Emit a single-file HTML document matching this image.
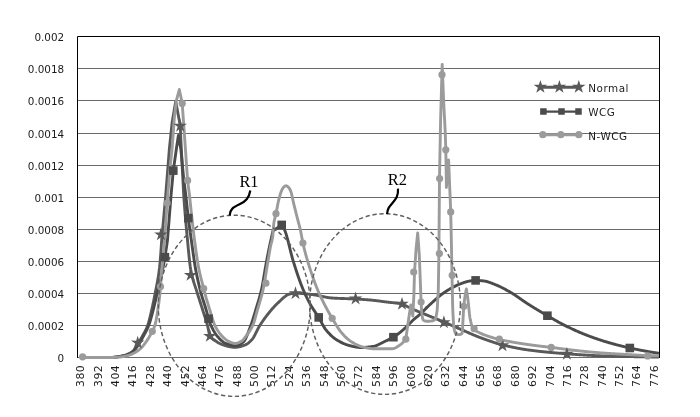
<!DOCTYPE html><html><head><meta charset="utf-8"><title>Spectrum</title>
<style>html,body{margin:0;padding:0;background:#fff}svg{display:block}text{font-family:"DejaVu Sans","Liberation Sans",sans-serif;fill:#1c1c1c}.s{font-family:"Liberation Serif",serif;fill:#000}</style></head><body>
<svg width="700" height="417" viewBox="0 0 700 417">
<rect width="700" height="417" fill="#fff"/>
<line x1="78" y1="68.5" x2="659" y2="68.5" stroke="#6a6a6a" stroke-width="1.2"/>
<line x1="78" y1="100.5" x2="659" y2="100.5" stroke="#6a6a6a" stroke-width="1.2"/>
<line x1="78" y1="133.5" x2="659" y2="133.5" stroke="#6a6a6a" stroke-width="1.2"/>
<line x1="78" y1="165.5" x2="659" y2="165.5" stroke="#6a6a6a" stroke-width="1.2"/>
<line x1="78" y1="197.5" x2="659" y2="197.5" stroke="#6a6a6a" stroke-width="1.2"/>
<line x1="78" y1="229.5" x2="659" y2="229.5" stroke="#6a6a6a" stroke-width="1.2"/>
<line x1="78" y1="261.5" x2="659" y2="261.5" stroke="#6a6a6a" stroke-width="1.2"/>
<line x1="78" y1="293.5" x2="659" y2="293.5" stroke="#6a6a6a" stroke-width="1.2"/>
<line x1="78" y1="325.5" x2="659" y2="325.5" stroke="#6a6a6a" stroke-width="1.2"/>
<line x1="78" y1="357.5" x2="659" y2="357.5" stroke="#6a6a6a" stroke-width="1.2"/>
<text x="64.2" y="40.8" font-size="10.4" text-anchor="end">0.002</text>
<text x="64.2" y="72.8" font-size="10.4" text-anchor="end">0.0018</text>
<text x="64.2" y="104.8" font-size="10.4" text-anchor="end">0.0016</text>
<text x="64.2" y="137.8" font-size="10.4" text-anchor="end">0.0014</text>
<text x="64.2" y="169.8" font-size="10.4" text-anchor="end">0.0012</text>
<text x="64.2" y="201.8" font-size="10.4" text-anchor="end">0.001</text>
<text x="64.2" y="233.8" font-size="10.4" text-anchor="end">0.0008</text>
<text x="64.2" y="265.8" font-size="10.4" text-anchor="end">0.0006</text>
<text x="64.2" y="297.8" font-size="10.4" text-anchor="end">0.0004</text>
<text x="64.2" y="329.8" font-size="10.4" text-anchor="end">0.0002</text>
<text x="64.2" y="361.8" font-size="10.4" text-anchor="end">0</text>
<text transform="translate(84.30,386.9) rotate(-90)" font-size="10.9" letter-spacing="0.4">380</text>
<text transform="translate(101.68,386.9) rotate(-90)" font-size="10.9" letter-spacing="0.4">392</text>
<text transform="translate(119.06,386.9) rotate(-90)" font-size="10.9" letter-spacing="0.4">404</text>
<text transform="translate(136.44,386.9) rotate(-90)" font-size="10.9" letter-spacing="0.4">416</text>
<text transform="translate(153.82,386.9) rotate(-90)" font-size="10.9" letter-spacing="0.4">428</text>
<text transform="translate(171.20,386.9) rotate(-90)" font-size="10.9" letter-spacing="0.4">440</text>
<text transform="translate(188.58,386.9) rotate(-90)" font-size="10.9" letter-spacing="0.4">452</text>
<text transform="translate(205.96,386.9) rotate(-90)" font-size="10.9" letter-spacing="0.4">464</text>
<text transform="translate(223.34,386.9) rotate(-90)" font-size="10.9" letter-spacing="0.4">476</text>
<text transform="translate(240.72,386.9) rotate(-90)" font-size="10.9" letter-spacing="0.4">488</text>
<text transform="translate(258.10,386.9) rotate(-90)" font-size="10.9" letter-spacing="0.4">500</text>
<text transform="translate(275.48,386.9) rotate(-90)" font-size="10.9" letter-spacing="0.4">512</text>
<text transform="translate(292.86,386.9) rotate(-90)" font-size="10.9" letter-spacing="0.4">524</text>
<text transform="translate(310.24,386.9) rotate(-90)" font-size="10.9" letter-spacing="0.4">536</text>
<text transform="translate(327.62,386.9) rotate(-90)" font-size="10.9" letter-spacing="0.4">548</text>
<text transform="translate(345.00,386.9) rotate(-90)" font-size="10.9" letter-spacing="0.4">560</text>
<text transform="translate(362.38,386.9) rotate(-90)" font-size="10.9" letter-spacing="0.4">572</text>
<text transform="translate(379.76,386.9) rotate(-90)" font-size="10.9" letter-spacing="0.4">584</text>
<text transform="translate(397.14,386.9) rotate(-90)" font-size="10.9" letter-spacing="0.4">596</text>
<text transform="translate(414.52,386.9) rotate(-90)" font-size="10.9" letter-spacing="0.4">608</text>
<text transform="translate(431.90,386.9) rotate(-90)" font-size="10.9" letter-spacing="0.4">620</text>
<text transform="translate(449.28,386.9) rotate(-90)" font-size="10.9" letter-spacing="0.4">632</text>
<text transform="translate(466.66,386.9) rotate(-90)" font-size="10.9" letter-spacing="0.4">644</text>
<text transform="translate(484.04,386.9) rotate(-90)" font-size="10.9" letter-spacing="0.4">656</text>
<text transform="translate(501.42,386.9) rotate(-90)" font-size="10.9" letter-spacing="0.4">668</text>
<text transform="translate(518.80,386.9) rotate(-90)" font-size="10.9" letter-spacing="0.4">680</text>
<text transform="translate(536.18,386.9) rotate(-90)" font-size="10.9" letter-spacing="0.4">692</text>
<text transform="translate(553.56,386.9) rotate(-90)" font-size="10.9" letter-spacing="0.4">704</text>
<text transform="translate(570.94,386.9) rotate(-90)" font-size="10.9" letter-spacing="0.4">716</text>
<text transform="translate(588.32,386.9) rotate(-90)" font-size="10.9" letter-spacing="0.4">728</text>
<text transform="translate(605.70,386.9) rotate(-90)" font-size="10.9" letter-spacing="0.4">740</text>
<text transform="translate(623.08,386.9) rotate(-90)" font-size="10.9" letter-spacing="0.4">752</text>
<text transform="translate(640.46,386.9) rotate(-90)" font-size="10.9" letter-spacing="0.4">764</text>
<text transform="translate(657.84,386.9) rotate(-90)" font-size="10.9" letter-spacing="0.4">776</text>
<path d="M113.00,357.30 L113.50,357.25 L114.00,357.20 L114.50,357.15 L115.00,357.09 L115.50,357.03 L116.00,356.97 L116.50,356.90 L117.00,356.83 L117.50,356.76 L118.00,356.68 L118.50,356.61 L119.00,356.53 L119.50,356.44 L120.00,356.36 L120.50,356.27 L121.00,356.17 L121.50,356.07 L122.00,355.97 L122.50,355.86 L123.00,355.75 L123.50,355.63 L124.00,355.50 L124.40,355.40 L124.50,355.37 L125.00,355.23 L125.50,355.07 L126.00,354.90 L126.50,354.72 L127.00,354.52 L127.50,354.31 L128.00,354.09 L128.50,353.86 L129.00,353.62 L129.50,353.36 L130.00,353.10 L130.50,352.83 L130.90,352.60 L131.00,352.54 L131.50,352.23 L132.00,351.87 L132.50,351.47 L132.80,351.20 L133.00,351.01 L133.50,350.47 L134.00,349.85 L134.50,349.18 L135.00,348.45 L135.50,347.69 L136.00,346.91 L136.50,346.12 L137.00,345.32 L137.40,344.70 L137.50,344.55 L138.00,343.76 L138.50,342.96 L139.00,342.14 L139.50,341.31 L140.00,340.46 L140.50,339.59 L141.00,338.71 L141.50,337.82 L142.00,336.91 L142.50,335.99 L142.60,335.80 L143.00,335.06 L143.50,334.16 L144.00,333.26 L144.50,332.35 L145.00,331.42 L145.50,330.45 L146.00,329.43 L146.50,328.35 L147.00,327.19 L147.50,325.93 L147.70,325.40 L148.00,324.55 L148.50,322.97 L149.00,321.21 L149.50,319.30 L150.00,317.28 L150.50,315.18 L151.00,313.03 L151.50,310.86 L151.70,310.00 L152.00,308.69 L152.50,306.44 L153.00,304.10 L153.50,301.68 L154.00,299.19 L154.50,296.65 L155.00,294.05 L155.20,293.00 L155.50,291.44 L156.00,288.94 L156.50,286.47 L157.00,283.96 L157.50,281.33 L158.00,278.50 L158.50,275.38 L159.00,271.91 L159.50,268.00 L160.00,263.16 L160.50,257.17 L161.00,250.34 L161.50,243.01 L161.70,240.00 L165.60,197.00 L169.40,148.70 L172.20,122.00 L175.70,101.50 L180.20,125.30 L181.30,148.70 L183.80,197.00 L184.30,203.47 L184.80,209.77 L185.30,215.87 L185.80,221.78 L186.30,227.46 L186.80,232.90 L187.00,235.00 L187.30,238.15 L187.80,243.48 L188.30,248.79 L188.80,253.92 L189.30,258.75 L189.80,263.14 L190.30,266.93 L190.80,270.00 L191.30,272.54 L191.80,274.84 L192.30,276.95 L192.80,278.87 L193.30,280.66 L193.80,282.32 L194.30,283.90 L194.80,285.41 L195.30,286.89 L195.80,288.36 L196.30,289.85 L196.80,291.38 L197.30,293.00 L197.80,294.65 L198.30,296.26 L198.80,297.85 L199.30,299.42 L199.80,300.97 L200.30,302.52 L200.80,304.06 L201.30,305.61 L201.80,307.16 L202.30,308.73 L202.70,310.00 L202.80,310.32 L203.30,311.89 L203.80,313.44 L204.30,314.97 L204.80,316.52 L205.30,318.08 L205.80,319.67 L206.30,321.30 L206.80,323.00 L207.30,324.77 L207.50,325.50 L207.80,326.72 L208.30,329.10 L208.80,331.58 L209.30,333.77 L209.80,335.31 L209.90,335.50 L210.30,336.15 L210.80,336.86 L211.30,337.48 L211.80,338.02 L212.30,338.50 L212.80,338.92 L213.30,339.30 L213.80,339.66 L214.30,340.00 L214.80,340.36 L215.00,340.50 L215.30,340.72 L215.80,341.08 L216.30,341.43 L216.80,341.77 L217.30,342.10 L217.80,342.43 L218.30,342.73 L218.80,343.03 L219.30,343.31 L219.80,343.57 L220.30,343.82 L220.80,344.04 L221.30,344.25 L221.80,344.43 L222.00,344.50 L222.30,344.60 L222.80,344.76 L223.30,344.92 L223.80,345.08 L224.30,345.24 L224.80,345.40 L225.30,345.55 L225.80,345.70 L226.30,345.85 L226.80,345.99 L227.30,346.13 L227.80,346.26 L228.30,346.38 L228.80,346.50 L229.30,346.62 L229.80,346.72 L230.30,346.82 L230.80,346.91 L231.30,347.00 L231.80,347.07 L232.30,347.13 L232.80,347.19 L233.30,347.23 L233.80,347.27 L234.30,347.29 L234.80,347.30 L235.00,347.30 L235.30,347.30 L235.80,347.28 L236.30,347.25 L236.80,347.20 L237.30,347.14 L237.80,347.07 L238.30,346.98 L238.80,346.89 L239.30,346.78 L239.80,346.66 L240.30,346.53 L240.80,346.40 L241.30,346.25 L241.80,346.10 L242.30,345.94 L242.80,345.78 L243.30,345.61 L243.80,345.43 L244.30,345.25 L244.80,345.07 L245.00,345.00 L245.30,344.88 L245.80,344.66 L246.30,344.40 L246.80,344.10 L247.30,343.78 L247.80,343.42 L248.30,343.04 L248.80,342.63 L249.30,342.19 L249.80,341.74 L250.30,341.26 L250.80,340.76 L251.30,340.25 L251.80,339.72 L252.00,339.50 L252.30,339.16 L252.80,338.51 L253.30,337.77 L253.80,336.96 L254.30,336.08 L254.80,335.15 L255.30,334.18 L255.80,333.18 L256.30,332.16 L256.80,331.14 L257.30,330.12 L257.80,329.12 L258.30,328.14 L258.80,327.21 L259.30,326.32 L259.80,325.50 L260.30,324.72 L260.80,323.95 L261.30,323.19 L261.80,322.45 L262.30,321.71 L262.80,320.99 L263.30,320.27 L263.80,319.57 L264.30,318.87 L264.80,318.19 L265.30,317.51 L265.80,316.85 L266.30,316.19 L266.80,315.54 L267.30,314.89 L267.80,314.25 L268.00,314.00 L268.30,313.62 L268.80,313.00 L269.30,312.38 L269.80,311.77 L270.30,311.17 L270.80,310.57 L271.30,309.98 L271.80,309.40 L272.30,308.82 L272.80,308.25 L273.30,307.69 L273.80,307.14 L274.30,306.60 L274.80,306.06 L275.30,305.53 L275.80,305.01 L276.00,304.80 L276.30,304.49 L276.80,304.00 L277.30,303.51 L277.80,303.04 L278.30,302.57 L278.80,302.11 L279.30,301.65 L279.80,301.19 L280.00,301.00 L280.30,300.72 L280.80,300.23 L281.30,299.75 L281.80,299.26 L282.30,298.78 L282.80,298.31 L283.30,297.87 L283.80,297.46 L284.00,297.30 L284.30,297.07 L284.80,296.67 L285.30,296.27 L285.80,295.88 L286.30,295.51 L286.80,295.17 L287.30,294.86 L287.80,294.60 L288.30,294.39 L288.60,294.30 L288.80,294.25 L289.30,294.12 L289.80,293.99 L290.30,293.87 L290.80,293.76 L291.30,293.66 L291.80,293.56 L292.30,293.48 L292.80,293.40 L293.30,293.34 L293.80,293.28 L294.30,293.24 L294.80,293.21 L295.30,293.20 L295.50,293.20 L295.80,293.20 L296.30,293.21 L296.80,293.22 L297.30,293.23 L297.80,293.25 L298.30,293.28 L298.80,293.31 L299.30,293.34 L299.80,293.37 L300.30,293.41 L300.80,293.45 L301.30,293.49 L301.80,293.53 L302.30,293.57 L302.80,293.61 L303.30,293.66 L303.80,293.70 L304.30,293.74 L304.80,293.78 L305.00,293.80 L305.30,293.82 L305.80,293.87 L306.30,293.91 L306.80,293.96 L307.30,294.01 L307.80,294.06 L308.30,294.12 L308.80,294.17 L309.30,294.23 L309.80,294.29 L310.30,294.35 L310.80,294.41 L311.30,294.47 L311.80,294.54 L312.30,294.60 L312.80,294.67 L313.30,294.74 L313.80,294.80 L314.30,294.87 L314.50,294.90 L314.80,294.94 L315.30,295.02 L315.80,295.10 L316.30,295.18 L316.80,295.27 L317.30,295.36 L317.80,295.46 L318.30,295.56 L318.80,295.66 L319.30,295.76 L319.80,295.87 L320.30,295.97 L320.80,296.08 L321.30,296.19 L321.80,296.30 L322.30,296.41 L322.80,296.52 L323.30,296.63 L323.80,296.74 L324.30,296.84 L324.80,296.95 L325.30,297.05 L325.80,297.15 L326.30,297.24 L326.80,297.34 L327.30,297.43 L327.80,297.51 L328.30,297.59 L328.80,297.67 L329.30,297.74 L329.80,297.80 L330.30,297.86 L330.80,297.92 L331.30,297.96 L331.80,298.00 L332.30,298.03 L332.80,298.07 L333.30,298.10 L333.80,298.13 L334.30,298.16 L334.80,298.19 L335.30,298.21 L335.80,298.24 L336.30,298.27 L336.80,298.29 L337.30,298.31 L337.80,298.33 L338.30,298.36 L338.80,298.38 L339.30,298.40 L339.80,298.42 L340.30,298.43 L340.80,298.45 L341.30,298.47 L341.80,298.49 L342.30,298.50 L342.80,298.52 L343.30,298.54 L343.80,298.55 L344.30,298.57 L344.80,298.59 L345.30,298.60 L345.80,298.62 L346.30,298.63 L346.80,298.65 L347.30,298.66 L347.80,298.68 L348.30,298.70 L348.80,298.71 L349.30,298.73 L349.80,298.75 L350.30,298.77 L350.80,298.79 L351.30,298.80 L351.80,298.82 L352.30,298.84 L352.80,298.87 L353.30,298.89 L353.80,298.91 L354.30,298.93 L354.80,298.96 L355.30,298.98 L355.60,299.00 L355.80,299.01 L356.30,299.04 L356.80,299.07 L357.30,299.09 L357.80,299.12 L358.30,299.15 L358.80,299.18 L359.30,299.21 L359.80,299.24 L360.30,299.27 L360.80,299.31 L361.30,299.34 L361.80,299.37 L362.30,299.40 L362.80,299.44 L363.30,299.47 L363.80,299.51 L364.30,299.54 L364.80,299.58 L365.30,299.62 L365.80,299.66 L366.30,299.69 L366.80,299.73 L367.30,299.77 L367.80,299.81 L368.30,299.86 L368.80,299.90 L369.30,299.94 L369.80,299.98 L370.00,300.00 L370.30,300.03 L370.80,300.07 L371.30,300.12 L371.80,300.17 L372.30,300.22 L372.80,300.27 L373.30,300.33 L373.80,300.38 L374.30,300.44 L374.80,300.49 L375.30,300.55 L375.80,300.61 L376.30,300.67 L376.80,300.73 L377.30,300.80 L377.80,300.86 L378.30,300.92 L378.80,300.99 L379.30,301.05 L379.80,301.12 L380.30,301.18 L380.80,301.25 L381.30,301.32 L381.80,301.38 L382.30,301.45 L382.80,301.51 L383.30,301.58 L383.80,301.65 L384.30,301.71 L384.80,301.78 L385.30,301.84 L385.80,301.91 L386.30,301.97 L386.80,302.04 L387.30,302.10 L387.80,302.16 L388.30,302.22 L388.80,302.28 L389.30,302.33 L389.80,302.38 L390.30,302.44 L390.80,302.49 L391.30,302.54 L391.80,302.58 L392.30,302.63 L392.80,302.68 L393.30,302.73 L393.80,302.78 L394.30,302.84 L394.80,302.89 L395.30,302.94 L395.80,303.00 L396.30,303.06 L396.80,303.12 L397.30,303.19 L397.80,303.26 L398.30,303.33 L398.80,303.40 L399.30,303.48 L399.80,303.57 L400.30,303.66 L400.80,303.75 L401.30,303.85 L401.80,303.96 L402.00,304.00 L402.30,304.07 L402.80,304.23 L403.30,304.42 L403.80,304.64 L404.30,304.89 L404.80,305.16 L405.30,305.43 L405.80,305.72 L406.30,306.00 L406.80,306.28 L407.30,306.55 L407.80,306.80 L408.00,306.90 L408.30,307.04 L408.80,307.27 L409.30,307.51 L409.80,307.74 L410.30,307.97 L410.80,308.20 L411.30,308.43 L411.80,308.66 L412.30,308.89 L412.80,309.12 L413.30,309.34 L413.80,309.57 L414.30,309.79 L414.80,310.01 L415.30,310.23 L415.80,310.45 L416.30,310.67 L416.60,310.80 L416.80,310.89 L417.30,311.10 L417.80,311.31 L418.30,311.53 L418.80,311.74 L419.30,311.95 L419.80,312.15 L420.30,312.36 L420.80,312.57 L421.30,312.77 L421.80,312.98 L422.30,313.18 L422.80,313.38 L423.30,313.59 L423.80,313.79 L424.30,313.99 L424.80,314.19 L425.30,314.39 L425.80,314.60 L426.30,314.80 L426.80,315.00 L427.30,315.20 L427.80,315.40 L428.30,315.61 L428.80,315.81 L429.30,316.01 L429.80,316.22 L430.00,316.30 L430.30,316.42 L430.80,316.63 L431.30,316.83 L431.80,317.04 L432.30,317.24 L432.80,317.44 L433.30,317.65 L433.80,317.85 L434.30,318.05 L434.80,318.26 L435.30,318.46 L435.80,318.66 L436.30,318.87 L436.80,319.07 L437.30,319.27 L437.80,319.48 L438.30,319.68 L438.80,319.88 L439.30,320.09 L439.80,320.30 L440.30,320.50 L440.80,320.71 L441.30,320.91 L441.80,321.12 L442.30,321.33 L442.80,321.54 L443.30,321.75 L443.80,321.96 L443.90,322.00 L444.30,322.17 L444.80,322.38 L445.30,322.59 L445.80,322.81 L446.30,323.02 L446.80,323.24 L447.30,323.45 L447.80,323.67 L448.30,323.89 L448.80,324.10 L449.30,324.32 L449.80,324.54 L450.30,324.76 L450.80,324.98 L451.30,325.20 L451.80,325.42 L452.30,325.64 L452.80,325.86 L453.30,326.08 L453.80,326.30 L454.30,326.52 L454.80,326.74 L455.30,326.96 L455.80,327.17 L456.30,327.39 L456.80,327.61 L457.30,327.83 L457.80,328.05 L458.30,328.27 L458.80,328.48 L459.30,328.70 L459.80,328.91 L460.00,329.00 L460.30,329.13 L460.80,329.35 L461.30,329.56 L461.80,329.78 L462.30,330.00 L462.80,330.22 L463.30,330.44 L463.80,330.66 L464.30,330.88 L464.80,331.10 L465.30,331.32 L465.80,331.54 L466.30,331.76 L466.80,331.99 L467.30,332.21 L467.80,332.43 L468.30,332.65 L468.80,332.87 L469.30,333.09 L469.80,333.31 L470.30,333.53 L470.80,333.74 L471.30,333.96 L471.80,334.18 L472.30,334.39 L472.80,334.61 L473.30,334.82 L473.80,335.03 L474.30,335.24 L474.80,335.45 L475.30,335.65 L475.80,335.86 L476.30,336.06 L476.80,336.26 L477.30,336.46 L477.80,336.66 L478.30,336.85 L478.80,337.05 L479.30,337.24 L479.80,337.43 L480.00,337.50 L480.30,337.61 L480.80,337.80 L481.30,337.98 L481.80,338.17 L482.30,338.35 L482.80,338.54 L483.30,338.72 L483.80,338.91 L484.30,339.09 L484.80,339.27 L485.30,339.46 L485.80,339.64 L486.30,339.82 L486.80,340.00 L487.30,340.18 L487.80,340.36 L488.30,340.53 L488.80,340.71 L489.30,340.88 L489.80,341.06 L490.30,341.23 L490.80,341.40 L491.30,341.57 L491.80,341.74 L492.30,341.91 L492.80,342.07 L493.30,342.24 L493.80,342.40 L494.30,342.56 L494.80,342.72 L495.30,342.88 L495.80,343.03 L496.30,343.19 L496.80,343.34 L497.30,343.49 L497.80,343.63 L498.30,343.78 L498.80,343.92 L499.30,344.06 L499.80,344.20 L500.30,344.33 L500.80,344.47 L501.30,344.60 L501.80,344.73 L502.30,344.85 L502.50,344.90 L502.80,344.97 L503.30,345.10 L503.80,345.22 L504.30,345.34 L504.80,345.46 L505.30,345.57 L505.80,345.69 L506.30,345.81 L506.80,345.92 L507.30,346.04 L507.80,346.15 L508.30,346.27 L508.80,346.38 L509.30,346.49 L509.80,346.60 L510.30,346.71 L510.80,346.82 L511.30,346.93 L511.80,347.03 L512.30,347.14 L512.80,347.24 L513.30,347.35 L513.80,347.45 L514.30,347.55 L514.80,347.65 L515.30,347.75 L515.80,347.85 L516.30,347.95 L516.80,348.05 L517.30,348.14 L517.80,348.24 L518.30,348.33 L518.80,348.42 L519.30,348.52 L519.80,348.61 L520.30,348.69 L520.80,348.78 L521.30,348.87 L521.80,348.96 L522.30,349.04 L522.80,349.12 L523.30,349.21 L523.80,349.29 L524.30,349.37 L524.80,349.45 L525.30,349.53 L525.80,349.60 L526.30,349.68 L526.80,349.75 L527.30,349.83 L527.80,349.90 L528.30,349.97 L528.80,350.04 L529.30,350.11 L529.80,350.17 L530.00,350.20 L530.30,350.24 L530.80,350.30 L531.30,350.37 L531.80,350.43 L532.30,350.50 L532.80,350.56 L533.30,350.62 L533.80,350.68 L534.30,350.74 L534.80,350.80 L535.30,350.86 L535.80,350.92 L536.30,350.98 L536.80,351.04 L537.30,351.10 L537.80,351.16 L538.30,351.21 L538.80,351.27 L539.30,351.33 L539.80,351.38 L540.30,351.44 L540.80,351.49 L541.30,351.54 L541.80,351.60 L542.30,351.65 L542.80,351.70 L543.30,351.75 L543.80,351.81 L544.30,351.86 L544.80,351.91 L545.30,351.96 L545.80,352.01 L546.30,352.06 L546.80,352.11 L547.30,352.15 L547.80,352.20 L548.30,352.25 L548.80,352.30 L549.30,352.34 L549.80,352.39 L550.30,352.44 L550.80,352.48 L551.30,352.53 L551.80,352.57 L552.30,352.62 L552.80,352.66 L553.30,352.71 L553.80,352.75 L554.30,352.79 L554.80,352.84 L555.30,352.88 L555.80,352.92 L556.30,352.97 L556.80,353.01 L557.30,353.05 L557.80,353.09 L558.30,353.13 L558.80,353.17 L559.30,353.21 L559.80,353.25 L560.30,353.29 L560.80,353.33 L561.30,353.37 L561.80,353.41 L562.30,353.45 L562.80,353.49 L563.30,353.53 L563.80,353.57 L564.30,353.60 L564.80,353.64 L565.30,353.68 L565.80,353.72 L566.30,353.76 L566.80,353.79 L566.90,353.80 L567.30,353.83 L567.80,353.87 L568.30,353.90 L568.80,353.94 L569.30,353.98 L569.80,354.01 L570.30,354.05 L570.80,354.09 L571.30,354.12 L571.80,354.16 L572.30,354.20 L572.80,354.23 L573.30,354.27 L573.80,354.30 L574.30,354.34 L574.80,354.37 L575.30,354.41 L575.80,354.45 L576.30,354.48 L576.80,354.51 L577.30,354.55 L577.80,354.58 L578.30,354.62 L578.80,354.65 L579.30,354.69 L579.80,354.72 L580.30,354.75 L580.80,354.78 L581.30,354.82 L581.80,354.85 L582.30,354.88 L582.80,354.91 L583.30,354.95 L583.80,354.98 L584.30,355.01 L584.80,355.04 L585.30,355.07 L585.80,355.10 L586.30,355.13 L586.80,355.16 L587.30,355.19 L587.80,355.22 L588.30,355.25 L588.80,355.27 L589.30,355.30 L589.80,355.33 L590.30,355.36 L590.80,355.38 L591.30,355.41 L591.80,355.44 L592.30,355.46 L592.80,355.49 L593.30,355.51 L593.80,355.54 L594.30,355.56 L594.80,355.58 L595.30,355.61 L595.80,355.63 L596.30,355.65 L596.80,355.67 L597.30,355.69 L597.80,355.71 L598.30,355.73 L598.80,355.75 L599.30,355.77 L599.80,355.79 L600.00,355.80 L600.30,355.81 L600.80,355.83 L601.30,355.85 L601.80,355.86 L602.30,355.88 L602.80,355.90 L603.30,355.92 L603.80,355.93 L604.30,355.95 L604.80,355.97 L605.30,355.98 L605.80,356.00 L606.30,356.02 L606.80,356.03 L607.30,356.05 L607.80,356.06 L608.30,356.08 L608.80,356.09 L609.30,356.11 L609.80,356.12 L610.30,356.14 L610.80,356.15 L611.30,356.17 L611.80,356.18 L612.30,356.20 L612.80,356.21 L613.30,356.22 L613.80,356.24 L614.30,356.25 L614.80,356.26 L615.30,356.28 L615.80,356.29 L616.30,356.30 L616.80,356.32 L617.30,356.33 L617.80,356.34 L618.30,356.35 L618.80,356.37 L619.30,356.38 L619.80,356.39 L620.30,356.40 L620.80,356.41 L621.30,356.42 L621.80,356.43 L622.30,356.45 L622.80,356.46 L623.30,356.47 L623.80,356.48 L624.30,356.49 L624.80,356.50 L625.30,356.51 L625.80,356.52 L626.30,356.53 L626.80,356.54 L627.30,356.55 L627.80,356.56 L628.30,356.57 L628.80,356.58 L629.30,356.59 L629.80,356.60 L630.00,356.60 L630.30,356.61 L630.80,356.61 L631.30,356.62 L631.80,356.63 L632.30,356.64 L632.80,356.65 L633.30,356.66 L633.80,356.67 L634.30,356.68 L634.80,356.68 L635.30,356.69 L635.80,356.70 L636.30,356.71 L636.80,356.72 L637.30,356.73 L637.80,356.74 L638.30,356.74 L638.80,356.75 L639.30,356.76 L639.80,356.77 L640.30,356.78 L640.80,356.78 L641.30,356.79 L641.80,356.80 L642.30,356.81 L642.80,356.81 L643.30,356.82 L643.80,356.83 L644.30,356.84 L644.80,356.84 L645.30,356.85 L645.80,356.86 L646.30,356.86 L646.80,356.87 L647.30,356.88 L647.80,356.88 L648.30,356.89 L648.80,356.90 L649.30,356.90 L649.80,356.91 L650.30,356.91 L650.80,356.92 L651.30,356.93 L651.80,356.93 L652.30,356.94 L652.80,356.94 L653.30,356.95 L653.80,356.95 L654.30,356.96 L654.80,356.96 L655.30,356.97 L655.80,356.97 L656.30,356.98 L656.80,356.98 L657.30,356.99 L657.80,356.99 L658.30,356.99 L658.80,357.00 L659.00,357.00" fill="none" stroke="#595959" stroke-width="2.9" stroke-linejoin="round" stroke-linecap="butt"/>
<path d="M114.00,357.30 L114.50,357.25 L115.00,357.19 L115.50,357.14 L116.00,357.07 L116.50,357.01 L117.00,356.94 L117.50,356.87 L118.00,356.80 L118.50,356.72 L119.00,356.65 L119.50,356.57 L120.00,356.49 L120.50,356.40 L121.00,356.32 L121.50,356.23 L122.00,356.13 L122.50,356.03 L123.00,355.93 L123.50,355.82 L124.00,355.71 L124.50,355.59 L125.00,355.46 L125.50,355.33 L125.60,355.30 L126.00,355.19 L126.50,355.04 L127.00,354.88 L127.50,354.70 L128.00,354.52 L128.50,354.32 L129.00,354.11 L129.50,353.88 L130.00,353.64 L130.50,353.38 L131.00,353.10 L131.50,352.81 L132.00,352.50 L132.50,352.15 L133.00,351.73 L133.50,351.25 L134.00,350.72 L134.50,350.15 L135.00,349.53 L135.50,348.89 L136.00,348.21 L136.50,347.52 L137.00,346.81 L137.50,346.09 L138.00,345.37 L138.40,344.80 L138.50,344.66 L139.00,343.91 L139.50,343.13 L140.00,342.31 L140.50,341.46 L141.00,340.59 L141.50,339.69 L142.00,338.78 L142.50,337.86 L143.00,336.92 L143.50,335.99 L143.60,335.80 L144.00,335.06 L144.50,334.14 L145.00,333.22 L145.50,332.29 L146.00,331.33 L146.50,330.35 L147.00,329.33 L147.50,328.25 L148.00,327.12 L148.50,325.91 L148.70,325.40 L149.00,324.60 L149.50,323.17 L150.00,321.61 L150.50,319.96 L151.00,318.21 L151.50,316.41 L152.00,314.55 L152.50,312.66 L153.00,310.76 L153.20,310.00 L153.50,308.84 L154.00,306.82 L154.50,304.72 L155.00,302.56 L155.50,300.37 L156.00,298.17 L156.50,295.98 L157.00,293.84 L157.20,293.00 L157.50,291.76 L158.00,289.76 L158.50,287.79 L159.00,285.84 L159.50,283.89 L160.00,281.90 L160.50,279.85 L161.00,277.71 L161.50,275.47 L161.60,275.00 L162.00,273.09 L162.50,270.59 L163.00,267.97 L163.50,265.26 L164.00,262.45 L164.50,259.56 L164.90,257.20 L165.00,256.60 L165.50,253.52 L166.00,250.31 L166.50,246.97 L167.00,243.53 L167.50,240.00 L170.90,197.00 L173.30,170.60 L176.40,148.70 L178.40,135.50 L180.80,148.70 L183.60,178.00 L186.00,197.00 L188.30,218.10 L188.80,221.85 L189.30,225.56 L189.80,229.24 L190.30,232.88 L190.80,236.49 L191.30,240.06 L191.80,243.60 L192.00,245.00 L192.30,247.12 L192.80,250.71 L193.30,254.31 L193.80,257.85 L194.30,261.27 L194.80,264.49 L195.30,267.45 L195.40,268.00 L195.80,270.15 L196.30,272.74 L196.80,275.23 L197.30,277.61 L197.80,279.91 L198.30,282.13 L198.80,284.27 L199.30,286.35 L199.80,288.36 L200.30,290.33 L200.80,292.24 L201.00,293.00 L201.30,294.11 L201.80,295.88 L202.30,297.57 L202.80,299.19 L203.30,300.77 L203.80,302.32 L204.30,303.86 L204.80,305.42 L205.30,307.00 L205.80,308.64 L206.20,310.00 L206.30,310.35 L206.80,312.17 L207.30,314.06 L207.80,315.93 L208.30,317.71 L208.60,318.70 L208.80,319.34 L209.30,320.90 L209.80,322.40 L210.30,323.80 L210.80,325.05 L211.00,325.50 L211.30,326.15 L211.80,327.19 L212.30,328.20 L212.80,329.17 L213.30,330.11 L213.80,331.00 L214.30,331.86 L214.80,332.68 L215.30,333.46 L215.80,334.20 L216.30,334.91 L216.80,335.57 L217.30,336.19 L217.80,336.78 L218.00,337.00 L218.30,337.33 L218.80,337.87 L219.30,338.39 L219.80,338.91 L220.30,339.41 L220.80,339.89 L221.30,340.36 L221.80,340.81 L222.30,341.23 L222.80,341.63 L223.30,342.01 L223.80,342.35 L224.30,342.67 L224.80,342.96 L225.30,343.21 L225.80,343.42 L226.00,343.50 L226.30,343.61 L226.80,343.79 L227.30,343.97 L227.80,344.14 L228.30,344.31 L228.80,344.47 L229.30,344.63 L229.80,344.78 L230.30,344.92 L230.80,345.06 L231.30,345.18 L231.80,345.30 L232.30,345.40 L232.80,345.50 L233.30,345.58 L233.80,345.65 L234.30,345.71 L234.80,345.75 L235.30,345.78 L235.80,345.80 L236.00,345.80 L236.30,345.79 L236.80,345.74 L237.30,345.64 L237.80,345.50 L238.30,345.32 L238.80,345.11 L239.30,344.86 L239.80,344.58 L240.30,344.27 L240.80,343.94 L241.30,343.58 L241.80,343.21 L242.30,342.82 L242.80,342.42 L243.30,342.00 L243.80,341.51 L244.30,340.87 L244.80,340.11 L245.30,339.23 L245.80,338.25 L246.30,337.18 L246.80,336.03 L247.30,334.81 L247.80,333.54 L248.30,332.23 L248.80,330.89 L249.30,329.54 L249.80,328.18 L250.30,326.83 L250.80,325.50 L251.30,324.14 L251.80,322.71 L252.30,321.21 L252.80,319.64 L253.30,318.04 L253.80,316.39 L254.30,314.72 L254.80,313.04 L255.30,311.35 L255.80,309.67 L256.00,309.00 L256.30,308.01 L256.80,306.37 L257.30,304.75 L257.80,303.13 L258.30,301.50 L258.80,299.83 L259.30,298.11 L259.80,296.33 L260.30,294.46 L260.80,292.50 L261.30,290.43 L261.40,290.00 L261.80,288.19 L262.30,285.71 L262.80,283.04 L263.30,280.22 L263.80,277.29 L264.30,274.30 L264.80,271.30 L265.30,268.31 L265.80,265.40 L266.30,262.61 L266.60,261.00 L266.80,259.95 L267.30,257.37 L267.80,254.82 L268.30,252.32 L268.80,249.85 L269.30,247.43 L269.60,246.00 L269.80,245.06 L270.30,242.75 L270.80,240.49 L271.30,238.25 L271.80,236.00 L272.30,233.73 L272.80,231.45 L272.90,231.00 L281.70,224.90 L282.20,225.59 L282.70,226.35 L283.20,227.20 L283.70,228.12 L284.20,229.13 L284.60,230.00 L284.70,230.23 L285.20,231.47 L285.70,232.87 L286.20,234.41 L286.70,236.08 L287.20,237.86 L287.70,239.72 L288.20,241.66 L288.70,243.65 L289.20,245.68 L289.70,247.72 L290.20,249.76 L290.70,251.78 L291.20,253.77 L291.70,255.70 L292.20,257.57 L292.70,259.34 L293.20,261.00 L293.70,262.60 L294.20,264.19 L294.70,265.77 L295.20,267.34 L295.70,268.90 L296.20,270.44 L296.70,271.96 L297.20,273.47 L297.70,274.97 L298.20,276.44 L298.70,277.89 L299.20,279.32 L299.70,280.72 L300.20,282.10 L300.70,283.45 L301.20,284.78 L301.70,286.07 L302.20,287.33 L302.70,288.57 L303.20,289.76 L303.30,290.00 L303.70,290.93 L304.20,292.07 L304.70,293.19 L305.20,294.28 L305.70,295.35 L306.20,296.40 L306.70,297.42 L307.20,298.43 L307.70,299.41 L308.20,300.38 L308.70,301.33 L309.20,302.26 L309.70,303.18 L310.20,304.08 L310.70,304.97 L311.00,305.50 L311.20,305.85 L311.70,306.69 L312.20,307.51 L312.70,308.31 L313.20,309.09 L313.70,309.85 L314.20,310.60 L314.70,311.34 L315.20,312.07 L315.70,312.81 L316.20,313.55 L316.70,314.29 L317.20,315.04 L317.70,315.81 L318.20,316.59 L318.70,317.40 L319.20,318.24 L319.70,319.12 L320.20,320.03 L320.70,320.97 L321.20,321.91 L321.70,322.86 L322.20,323.81 L322.70,324.74 L323.20,325.66 L323.70,326.54 L324.20,327.38 L324.70,328.17 L325.20,328.91 L325.70,329.57 L325.80,329.70 L326.20,330.19 L326.70,330.79 L327.20,331.38 L327.70,331.95 L328.20,332.51 L328.70,333.06 L329.20,333.59 L329.70,334.11 L330.20,334.62 L330.70,335.11 L331.20,335.59 L331.70,336.05 L332.20,336.50 L332.70,336.93 L333.20,337.35 L333.70,337.76 L334.20,338.15 L334.70,338.53 L335.20,338.89 L335.70,339.23 L336.20,339.56 L336.70,339.88 L336.90,340.00 L337.20,340.18 L337.70,340.48 L338.20,340.77 L338.70,341.05 L339.20,341.33 L339.70,341.60 L340.20,341.87 L340.70,342.13 L341.20,342.39 L341.70,342.64 L342.20,342.88 L342.70,343.12 L343.20,343.34 L343.70,343.57 L344.20,343.78 L344.70,343.99 L345.20,344.19 L345.70,344.38 L346.20,344.56 L346.70,344.74 L347.20,344.91 L347.70,345.07 L348.20,345.22 L348.70,345.36 L349.20,345.50 L349.60,345.60 L349.70,345.62 L350.20,345.75 L350.70,345.87 L351.20,346.00 L351.70,346.12 L352.20,346.24 L352.70,346.36 L353.20,346.48 L353.70,346.59 L354.20,346.70 L354.70,346.81 L355.20,346.91 L355.70,347.00 L356.20,347.09 L356.70,347.17 L357.20,347.25 L357.70,347.31 L358.20,347.37 L358.70,347.42 L359.20,347.45 L359.70,347.48 L360.20,347.50 L360.60,347.50 L360.70,347.50 L361.20,347.50 L361.70,347.49 L362.20,347.48 L362.70,347.46 L363.20,347.44 L363.70,347.42 L364.20,347.39 L364.70,347.36 L365.20,347.33 L365.70,347.29 L366.20,347.25 L366.70,347.21 L367.20,347.16 L367.70,347.11 L368.20,347.06 L368.70,347.00 L369.20,346.95 L369.70,346.89 L370.20,346.82 L370.70,346.76 L371.20,346.69 L371.70,346.63 L372.20,346.56 L372.70,346.49 L373.20,346.41 L373.30,346.40 L373.70,346.33 L374.20,346.23 L374.70,346.10 L375.20,345.96 L375.70,345.79 L376.20,345.61 L376.70,345.42 L377.20,345.21 L377.70,344.98 L378.20,344.75 L378.70,344.51 L379.20,344.26 L379.70,344.00 L380.20,343.74 L380.70,343.48 L381.20,343.22 L381.70,342.95 L382.20,342.69 L382.70,342.43 L383.20,342.18 L383.70,341.93 L384.20,341.69 L384.40,341.60 L384.70,341.46 L385.20,341.23 L385.70,341.01 L386.20,340.78 L386.70,340.56 L387.20,340.33 L387.70,340.11 L388.20,339.88 L388.70,339.64 L389.20,339.41 L389.70,339.17 L390.20,338.93 L390.70,338.68 L391.20,338.42 L391.70,338.16 L392.20,337.89 L392.70,337.61 L393.20,337.32 L393.40,337.20 L393.70,337.02 L394.20,336.71 L394.70,336.39 L395.20,336.06 L395.70,335.72 L396.20,335.37 L396.70,335.01 L397.20,334.65 L397.70,334.27 L398.20,333.89 L398.70,333.50 L399.20,333.11 L399.70,332.70 L400.20,332.30 L400.70,331.89 L401.20,331.47 L401.70,331.05 L402.20,330.62 L402.70,330.20 L403.20,329.77 L403.70,329.33 L404.20,328.90 L404.70,328.46 L405.00,328.20 L405.20,328.02 L405.70,327.57 L406.20,327.10 L406.70,326.62 L407.20,326.13 L407.70,325.63 L408.20,325.12 L408.70,324.60 L409.20,324.08 L409.70,323.56 L410.20,323.05 L410.70,322.53 L411.20,322.02 L411.70,321.51 L412.20,321.01 L412.70,320.53 L413.20,320.05 L413.70,319.59 L413.80,319.50 L414.20,319.15 L414.70,318.72 L415.20,318.30 L415.70,317.89 L416.20,317.49 L416.70,317.08 L417.20,316.68 L417.70,316.27 L418.20,315.86 L418.70,315.44 L419.20,315.00 L419.70,314.55 L420.20,314.09 L420.70,313.62 L421.20,313.14 L421.70,312.66 L422.20,312.17 L422.70,311.67 L423.20,311.18 L423.70,310.67 L424.20,310.17 L424.70,309.66 L425.20,309.16 L425.70,308.65 L426.20,308.15 L426.70,307.65 L427.20,307.16 L427.70,306.67 L428.20,306.18 L428.70,305.70 L429.20,305.23 L429.70,304.77 L430.00,304.50 L430.20,304.32 L430.70,303.87 L431.20,303.41 L431.70,302.96 L432.20,302.51 L432.70,302.05 L433.20,301.60 L433.70,301.15 L434.20,300.70 L434.70,300.25 L435.20,299.80 L435.70,299.36 L436.20,298.91 L436.70,298.47 L437.20,298.04 L437.70,297.61 L438.20,297.18 L438.70,296.76 L439.20,296.34 L439.70,295.93 L440.20,295.52 L440.70,295.12 L441.20,294.73 L441.70,294.34 L442.20,293.97 L442.70,293.59 L443.20,293.23 L443.70,292.88 L444.20,292.53 L444.70,292.20 L445.00,292.00 L445.20,291.87 L445.70,291.55 L446.20,291.23 L446.70,290.91 L447.20,290.60 L447.70,290.29 L448.20,289.98 L448.70,289.67 L449.20,289.37 L449.70,289.08 L450.20,288.78 L450.70,288.49 L451.20,288.21 L451.70,287.93 L452.20,287.65 L452.70,287.38 L453.20,287.11 L453.70,286.85 L454.20,286.59 L454.70,286.34 L455.20,286.09 L455.70,285.85 L456.20,285.61 L456.70,285.38 L457.20,285.15 L457.70,284.93 L458.20,284.72 L458.70,284.51 L459.20,284.31 L459.70,284.11 L460.00,284.00 L460.20,283.92 L460.70,283.74 L461.20,283.55 L461.70,283.36 L462.20,283.18 L462.70,283.00 L463.20,282.82 L463.70,282.65 L464.20,282.48 L464.70,282.31 L465.20,282.15 L465.70,282.00 L466.20,281.85 L466.70,281.71 L467.20,281.58 L467.70,281.46 L468.20,281.34 L468.70,281.23 L469.20,281.13 L469.70,281.05 L470.00,281.00 L470.20,280.97 L470.70,280.89 L471.20,280.82 L471.70,280.74 L472.20,280.67 L472.70,280.61 L473.20,280.55 L473.70,280.50 L474.20,280.45 L474.70,280.42 L475.20,280.40 L475.60,280.40 L475.70,280.40 L476.20,280.40 L476.70,280.41 L477.20,280.43 L477.70,280.45 L478.20,280.47 L478.70,280.50 L479.20,280.54 L479.70,280.57 L480.20,280.61 L480.70,280.66 L481.20,280.70 L481.70,280.75 L482.20,280.80 L482.70,280.86 L483.20,280.91 L483.70,280.97 L484.00,281.00 L484.20,281.02 L484.70,281.09 L485.20,281.18 L485.70,281.28 L486.20,281.39 L486.70,281.51 L487.20,281.64 L487.70,281.79 L488.20,281.94 L488.70,282.10 L489.20,282.27 L489.70,282.45 L490.20,282.63 L490.70,282.82 L491.20,283.01 L491.70,283.20 L492.20,283.40 L492.70,283.59 L493.20,283.79 L493.70,283.99 L494.20,284.19 L494.70,284.38 L495.00,284.50 L495.20,284.58 L495.70,284.77 L496.20,284.98 L496.70,285.18 L497.20,285.40 L497.70,285.61 L498.20,285.83 L498.70,286.06 L499.20,286.29 L499.70,286.52 L500.20,286.76 L500.70,287.00 L501.20,287.25 L501.70,287.50 L502.20,287.75 L502.70,288.01 L503.20,288.27 L503.70,288.53 L504.20,288.79 L504.70,289.06 L505.20,289.33 L505.70,289.60 L506.20,289.87 L506.70,290.15 L507.20,290.42 L507.70,290.70 L508.20,290.98 L508.70,291.26 L509.20,291.55 L509.70,291.83 L510.00,292.00 L510.20,292.11 L510.70,292.40 L511.20,292.70 L511.70,293.00 L512.20,293.31 L512.70,293.62 L513.20,293.94 L513.70,294.26 L514.20,294.58 L514.70,294.91 L515.20,295.24 L515.70,295.58 L516.20,295.92 L516.70,296.26 L517.20,296.60 L517.70,296.95 L518.20,297.30 L518.70,297.64 L519.20,297.99 L519.70,298.34 L520.20,298.70 L520.70,299.05 L521.20,299.40 L521.70,299.75 L522.20,300.10 L522.70,300.45 L523.20,300.79 L523.70,301.14 L524.20,301.48 L524.70,301.82 L525.20,302.16 L525.70,302.50 L526.20,302.83 L526.70,303.16 L527.20,303.49 L527.70,303.81 L528.00,304.00 L528.20,304.13 L528.70,304.44 L529.20,304.76 L529.70,305.07 L530.20,305.39 L530.70,305.70 L531.20,306.01 L531.70,306.32 L532.20,306.63 L532.70,306.94 L533.20,307.25 L533.70,307.55 L534.20,307.86 L534.70,308.17 L535.20,308.47 L535.70,308.77 L536.20,309.08 L536.70,309.38 L537.20,309.68 L537.70,309.98 L538.20,310.28 L538.70,310.58 L539.20,310.88 L539.70,311.18 L540.20,311.48 L540.70,311.78 L541.20,312.07 L541.70,312.37 L542.20,312.66 L542.70,312.96 L543.20,313.25 L543.70,313.55 L544.20,313.84 L544.70,314.13 L545.20,314.42 L545.70,314.71 L546.20,315.00 L546.70,315.29 L547.20,315.58 L547.40,315.70 L547.70,315.87 L548.20,316.16 L548.70,316.45 L549.20,316.74 L549.70,317.03 L550.20,317.32 L550.70,317.61 L551.20,317.90 L551.70,318.19 L552.20,318.48 L552.70,318.77 L553.20,319.06 L553.70,319.35 L554.20,319.64 L554.70,319.92 L555.20,320.21 L555.70,320.49 L556.20,320.78 L556.70,321.06 L557.20,321.34 L557.70,321.62 L558.20,321.90 L558.70,322.17 L559.20,322.45 L559.70,322.72 L560.20,323.00 L560.70,323.27 L561.20,323.53 L561.70,323.80 L562.20,324.06 L562.70,324.33 L563.20,324.59 L563.70,324.84 L564.20,325.10 L564.70,325.35 L565.00,325.50 L565.20,325.60 L565.70,325.85 L566.20,326.10 L566.70,326.34 L567.20,326.59 L567.70,326.83 L568.20,327.07 L568.70,327.32 L569.20,327.56 L569.70,327.80 L570.20,328.04 L570.70,328.27 L571.20,328.51 L571.70,328.74 L572.20,328.98 L572.70,329.21 L573.20,329.44 L573.70,329.67 L574.20,329.90 L574.70,330.13 L575.20,330.35 L575.70,330.58 L576.20,330.80 L576.70,331.02 L577.20,331.24 L577.70,331.46 L578.20,331.68 L578.70,331.90 L579.20,332.11 L579.70,332.33 L580.20,332.54 L580.70,332.75 L581.20,332.96 L581.70,333.17 L582.20,333.37 L582.70,333.58 L583.20,333.78 L583.70,333.98 L584.20,334.18 L584.70,334.38 L585.00,334.50 L585.20,334.58 L585.70,334.77 L586.20,334.97 L586.70,335.16 L587.20,335.36 L587.70,335.55 L588.20,335.74 L588.70,335.93 L589.20,336.12 L589.70,336.31 L590.20,336.49 L590.70,336.68 L591.20,336.86 L591.70,337.05 L592.20,337.23 L592.70,337.41 L593.20,337.59 L593.70,337.77 L594.20,337.95 L594.70,338.13 L595.20,338.30 L595.70,338.48 L596.20,338.65 L596.70,338.82 L597.20,338.99 L597.70,339.16 L598.20,339.33 L598.70,339.50 L599.20,339.66 L599.70,339.83 L600.20,339.99 L600.70,340.16 L601.20,340.32 L601.70,340.48 L602.20,340.64 L602.70,340.79 L603.20,340.95 L603.70,341.10 L604.20,341.26 L604.70,341.41 L605.00,341.50 L605.20,341.56 L605.70,341.71 L606.20,341.86 L606.70,342.01 L607.20,342.16 L607.70,342.30 L608.20,342.45 L608.70,342.59 L609.20,342.74 L609.70,342.88 L610.20,343.02 L610.70,343.17 L611.20,343.31 L611.70,343.45 L612.20,343.59 L612.70,343.73 L613.20,343.86 L613.70,344.00 L614.20,344.14 L614.70,344.27 L615.20,344.41 L615.70,344.54 L616.20,344.68 L616.70,344.81 L617.20,344.94 L617.70,345.07 L618.20,345.20 L618.70,345.33 L619.20,345.46 L619.70,345.59 L620.20,345.72 L620.70,345.84 L621.20,345.97 L621.70,346.09 L622.20,346.22 L622.70,346.34 L623.20,346.46 L623.70,346.58 L624.20,346.70 L624.70,346.82 L625.20,346.94 L625.70,347.06 L626.20,347.18 L626.70,347.29 L627.20,347.41 L627.70,347.53 L628.20,347.64 L628.70,347.75 L629.20,347.87 L629.70,347.98 L629.80,348.00 L630.20,348.09 L630.70,348.20 L631.20,348.31 L631.70,348.42 L632.20,348.52 L632.70,348.63 L633.20,348.73 L633.70,348.84 L634.20,348.94 L634.70,349.04 L635.20,349.15 L635.70,349.25 L636.20,349.35 L636.70,349.45 L637.20,349.54 L637.70,349.64 L638.20,349.74 L638.70,349.83 L639.20,349.93 L639.70,350.03 L640.20,350.12 L640.70,350.21 L641.20,350.31 L641.70,350.40 L642.20,350.49 L642.70,350.58 L643.20,350.68 L643.70,350.77 L644.20,350.86 L644.70,350.95 L645.00,351.00 L645.20,351.04 L645.70,351.12 L646.20,351.21 L646.70,351.30 L647.20,351.39 L647.70,351.48 L648.20,351.56 L648.70,351.65 L649.20,351.73 L649.70,351.82 L650.20,351.90 L650.70,351.99 L651.20,352.07 L651.70,352.15 L652.20,352.24 L652.70,352.32 L653.20,352.40 L653.70,352.48 L654.20,352.56 L654.70,352.64 L655.20,352.72 L655.70,352.80 L656.20,352.88 L656.70,352.95 L657.20,353.03 L657.70,353.11 L658.20,353.18 L658.70,353.26 L659.00,353.30" fill="none" stroke="#4b4b4b" stroke-width="2.9" stroke-linejoin="round" stroke-linecap="butt"/>
<path d="M82.60,357.50 L83.10,357.50 L83.60,357.50 L84.10,357.50 L84.60,357.50 L85.10,357.50 L85.60,357.50 L86.10,357.50 L86.60,357.50 L87.10,357.50 L87.60,357.50 L88.10,357.50 L88.60,357.50 L89.10,357.50 L89.60,357.50 L90.10,357.50 L90.60,357.50 L91.10,357.50 L91.60,357.50 L92.10,357.50 L92.60,357.50 L93.10,357.50 L93.60,357.50 L94.10,357.50 L94.60,357.50 L95.10,357.50 L95.60,357.50 L96.10,357.50 L96.60,357.50 L97.10,357.50 L97.60,357.50 L98.10,357.50 L98.60,357.50 L99.10,357.50 L99.60,357.50 L100.10,357.50 L100.60,357.50 L101.10,357.50 L101.60,357.50 L102.10,357.50 L102.60,357.50 L103.10,357.50 L103.60,357.50 L104.10,357.50 L104.60,357.50 L105.10,357.50 L105.60,357.50 L106.10,357.50 L106.60,357.50 L107.10,357.50 L107.60,357.50 L108.10,357.50 L108.60,357.50 L109.10,357.50 L109.60,357.50 L110.00,357.50 L110.10,357.50 L110.60,357.50 L111.10,357.49 L111.60,357.48 L112.10,357.47 L112.60,357.46 L113.10,357.44 L113.60,357.43 L114.10,357.41 L114.60,357.38 L115.10,357.36 L115.60,357.34 L116.10,357.31 L116.60,357.28 L117.10,357.25 L117.60,357.22 L118.00,357.20 L118.10,357.19 L118.60,357.16 L119.10,357.12 L119.60,357.07 L120.10,357.01 L120.60,356.95 L121.10,356.89 L121.60,356.81 L122.10,356.74 L122.60,356.66 L123.10,356.57 L123.60,356.48 L124.10,356.39 L124.60,356.29 L125.10,356.19 L125.60,356.08 L126.00,356.00 L126.10,355.98 L126.60,355.86 L127.10,355.73 L127.60,355.59 L128.10,355.44 L128.60,355.28 L129.10,355.11 L129.60,354.93 L130.10,354.74 L130.60,354.54 L131.10,354.34 L131.60,354.12 L132.10,353.91 L132.60,353.68 L133.00,353.50 L133.10,353.45 L133.60,353.22 L134.10,352.96 L134.60,352.70 L135.10,352.42 L135.60,352.13 L136.10,351.83 L136.60,351.51 L137.10,351.18 L137.60,350.84 L138.10,350.48 L138.60,350.11 L139.10,349.73 L139.60,349.33 L140.00,349.00 L140.10,348.92 L140.60,348.47 L141.10,348.00 L141.60,347.49 L142.10,346.95 L142.60,346.38 L143.10,345.79 L143.60,345.18 L144.10,344.54 L144.60,343.89 L145.10,343.23 L145.60,342.55 L146.00,342.00 L146.10,341.86 L146.60,341.15 L147.10,340.41 L147.60,339.65 L148.10,338.86 L148.60,338.05 L149.10,337.21 L149.60,336.35 L150.10,335.46 L150.60,334.55 L151.10,333.62 L151.60,332.67 L152.10,331.69 L152.30,331.30 L152.60,330.71 L153.10,329.75 L153.60,328.73 L154.10,327.60 L154.60,326.30 L154.90,325.40 L155.10,324.72 L155.60,322.68 L156.10,320.22 L156.60,317.43 L157.10,314.41 L157.60,311.27 L157.80,310.00 L158.10,308.06 L158.60,304.61 L159.10,300.84 L159.60,296.67 L160.00,293.00 L160.10,292.01 L160.60,286.24 L161.10,279.66 L161.60,272.96 L162.00,268.00 L162.10,266.84 L162.60,261.14 L163.10,255.58 L163.60,250.20 L164.10,245.00 L164.60,240.00 L167.10,203.00 L170.30,165.40 L172.10,148.70 L174.30,118.00 L176.40,100.40 L179.30,89.50 L182.20,103.40 L185.40,148.70 L187.60,180.40 L189.70,197.00 L190.20,202.03 L190.70,206.95 L191.20,211.74 L191.70,216.40 L192.20,220.93 L192.70,225.33 L193.20,229.59 L193.70,233.71 L194.20,237.69 L194.50,240.00 L194.70,241.52 L195.20,245.28 L195.70,248.96 L196.20,252.54 L196.70,255.99 L197.20,259.28 L197.70,262.40 L198.20,265.31 L198.70,268.00 L199.20,270.47 L199.70,272.78 L200.20,274.94 L200.70,277.00 L201.20,278.98 L201.70,280.90 L202.20,282.79 L202.70,284.69 L203.20,286.62 L203.70,288.60 L204.20,290.64 L204.70,292.62 L204.80,293.00 L205.20,294.48 L205.70,296.29 L206.20,298.06 L206.70,299.79 L207.20,301.49 L207.70,303.17 L208.20,304.82 L208.70,306.45 L209.20,308.07 L209.70,309.68 L209.80,310.00 L210.20,311.30 L210.70,312.97 L211.20,314.66 L211.70,316.35 L212.20,318.01 L212.70,319.63 L213.20,321.16 L213.70,322.60 L214.20,323.91 L214.70,325.08 L214.90,325.50 L215.20,326.10 L215.70,327.07 L216.20,327.99 L216.70,328.87 L217.20,329.71 L217.70,330.51 L218.20,331.27 L218.70,332.00 L219.20,332.69 L219.70,333.35 L220.20,333.98 L220.70,334.58 L221.20,335.15 L221.70,335.69 L222.00,336.00 L222.20,336.20 L222.70,336.71 L223.20,337.20 L223.70,337.68 L224.20,338.14 L224.70,338.58 L225.20,339.01 L225.70,339.42 L226.20,339.80 L226.70,340.17 L227.20,340.51 L227.70,340.82 L228.20,341.10 L228.70,341.36 L229.00,341.50 L229.20,341.59 L229.70,341.82 L230.20,342.04 L230.70,342.26 L231.20,342.47 L231.70,342.67 L232.20,342.86 L232.70,343.02 L233.20,343.16 L233.70,343.27 L234.20,343.35 L234.70,343.39 L235.00,343.40 L235.20,343.40 L235.70,343.36 L236.20,343.30 L236.70,343.20 L237.20,343.07 L237.70,342.92 L238.20,342.75 L238.70,342.55 L239.20,342.35 L239.70,342.12 L240.20,341.89 L240.70,341.65 L241.00,341.50 L241.20,341.39 L241.70,341.07 L242.20,340.68 L242.70,340.22 L243.20,339.70 L243.70,339.13 L244.20,338.52 L244.70,337.87 L245.20,337.20 L245.70,336.51 L246.20,335.81 L246.70,335.11 L247.20,334.41 L247.50,334.00 L247.70,333.73 L248.20,333.04 L248.70,332.35 L249.20,331.64 L249.70,330.90 L250.20,330.13 L250.70,329.32 L251.20,328.46 L251.70,327.54 L252.20,326.56 L252.70,325.50 L253.20,324.31 L253.70,322.93 L254.20,321.41 L254.70,319.76 L255.20,318.03 L255.70,316.23 L256.20,314.40 L256.70,312.56 L257.20,310.75 L257.70,309.00 L258.20,307.31 L258.70,305.64 L259.20,304.00 L259.70,302.35 L260.20,300.68 L260.70,298.96 L261.20,297.19 L261.70,295.33 L262.20,293.38 L262.70,291.31 L263.00,290.00 L263.20,289.09 L263.70,286.64 L264.20,283.98 L264.70,281.14 L265.20,278.17 L265.70,275.10 L266.20,271.99 L266.70,268.87 L267.20,265.78 L267.70,262.76 L268.00,261.00 L268.20,259.83 L268.70,256.86 L269.20,253.86 L269.70,250.92 L270.20,248.11 L270.60,246.00 L270.70,245.51 L271.20,243.41 L271.70,241.55 L272.20,239.47 L272.70,236.68 L272.80,236.00 L273.20,231.25 L273.70,224.35 L273.80,223.50 L274.20,221.06 L274.70,218.76 L275.20,216.89 L275.70,215.01 L276.00,213.70 L276.20,212.73 L276.70,210.12 L277.20,207.40 L277.70,204.74 L278.20,202.29 L278.50,201.00 L278.70,200.19 L279.20,198.22 L279.70,196.34 L280.20,194.58 L280.70,192.98 L281.20,191.57 L281.70,190.40 L282.20,189.39 L282.70,188.47 L283.20,187.68 L283.70,187.07 L284.00,186.80 L284.20,186.65 L284.70,186.30 L285.20,186.01 L285.70,185.83 L286.00,185.80 L286.20,185.81 L286.70,185.96 L287.20,186.24 L287.70,186.58 L288.00,186.80 L288.20,186.96 L288.70,187.49 L289.20,188.19 L289.70,189.02 L290.20,189.98 L290.40,190.40 L290.70,191.13 L291.20,192.69 L291.70,194.60 L292.20,196.75 L292.70,199.04 L293.20,201.34 L293.70,203.56 L294.00,204.80 L294.20,205.60 L294.70,207.61 L295.20,209.62 L295.70,211.63 L296.20,213.64 L296.70,215.64 L297.20,217.62 L297.60,219.20 L297.70,219.59 L298.20,221.48 L298.70,223.32 L299.20,225.16 L299.70,227.08 L300.20,229.13 L300.40,230.00 L300.70,231.41 L301.20,234.00 L301.70,236.77 L302.20,239.51 L302.70,242.07 L302.90,243.00 L303.20,244.33 L303.70,246.48 L304.20,248.55 L304.70,250.55 L305.20,252.48 L305.70,254.35 L306.20,256.17 L306.70,257.93 L307.20,259.65 L307.60,261.00 L307.70,261.33 L308.20,262.99 L308.70,264.62 L309.20,266.22 L309.70,267.80 L310.20,269.36 L310.70,270.89 L311.20,272.40 L311.70,273.89 L312.20,275.35 L312.70,276.80 L313.20,278.22 L313.70,279.61 L314.20,280.99 L314.70,282.34 L315.20,283.67 L315.70,284.98 L316.20,286.27 L316.70,287.53 L317.20,288.78 L317.70,290.00 L318.20,291.20 L318.70,292.37 L319.20,293.51 L319.70,294.63 L320.20,295.72 L320.70,296.79 L321.20,297.85 L321.70,298.89 L322.20,299.91 L322.70,300.92 L323.20,301.92 L323.70,302.91 L324.00,303.50 L324.20,303.89 L324.70,304.87 L325.20,305.83 L325.70,306.78 L326.20,307.72 L326.70,308.65 L327.20,309.58 L327.70,310.49 L328.20,311.39 L328.70,312.28 L329.20,313.17 L329.70,314.04 L330.20,314.91 L330.70,315.77 L331.20,316.62 L331.70,317.46 L332.20,318.30 L332.70,319.13 L333.20,319.97 L333.70,320.82 L334.20,321.66 L334.70,322.50 L335.20,323.34 L335.70,324.17 L336.20,325.00 L336.70,325.81 L337.20,326.61 L337.70,327.40 L338.20,328.17 L338.70,328.92 L339.20,329.65 L339.70,330.35 L340.20,331.03 L340.70,331.69 L341.20,332.31 L341.70,332.90 L342.20,333.47 L342.70,334.03 L343.20,334.58 L343.70,335.12 L344.20,335.64 L344.70,336.16 L345.20,336.66 L345.70,337.15 L346.20,337.63 L346.70,338.10 L347.20,338.55 L347.70,338.98 L348.20,339.41 L348.70,339.81 L349.20,340.20 L349.70,340.58 L350.20,340.94 L350.70,341.28 L351.20,341.60 L351.70,341.91 L352.20,342.22 L352.70,342.52 L353.20,342.82 L353.70,343.11 L354.20,343.40 L354.70,343.68 L355.20,343.95 L355.70,344.21 L356.20,344.47 L356.70,344.72 L357.20,344.96 L357.70,345.19 L358.20,345.41 L358.70,345.62 L359.20,345.83 L359.70,346.02 L360.20,346.20 L360.70,346.37 L361.20,346.52 L361.70,346.67 L362.20,346.80 L362.70,346.93 L363.20,347.05 L363.70,347.18 L364.20,347.30 L364.70,347.42 L365.20,347.54 L365.70,347.66 L366.20,347.77 L366.70,347.88 L367.20,347.99 L367.70,348.09 L368.20,348.18 L368.70,348.27 L369.20,348.35 L369.70,348.43 L370.20,348.50 L370.70,348.55 L371.20,348.60 L371.70,348.64 L372.20,348.67 L372.70,348.69 L373.20,348.70 L373.30,348.70 L373.70,348.70 L374.20,348.70 L374.70,348.70 L375.20,348.70 L375.70,348.70 L376.20,348.70 L376.70,348.70 L377.20,348.70 L377.70,348.70 L378.20,348.70 L378.70,348.70 L379.20,348.70 L379.70,348.70 L380.20,348.70 L380.70,348.70 L381.20,348.70 L381.70,348.70 L382.20,348.70 L382.70,348.70 L383.20,348.70 L383.70,348.70 L384.20,348.70 L384.70,348.70 L385.20,348.70 L385.70,348.70 L386.20,348.70 L386.70,348.70 L387.20,348.70 L387.70,348.70 L388.20,348.70 L388.70,348.70 L389.20,348.70 L389.70,348.70 L390.20,348.70 L390.70,348.70 L391.20,348.70 L391.70,348.70 L392.20,348.70 L392.30,348.70 L392.70,348.68 L393.20,348.62 L393.70,348.51 L394.20,348.37 L394.70,348.18 L395.20,347.96 L395.70,347.72 L396.20,347.44 L396.70,347.15 L397.20,346.84 L397.70,346.51 L398.20,346.18 L398.70,345.83 L399.20,345.49 L399.70,345.14 L400.20,344.80 L400.70,344.44 L401.20,344.05 L401.70,343.62 L402.20,343.17 L402.70,342.68 L403.20,342.17 L403.70,341.63 L404.20,341.08 L404.70,340.51 L405.20,339.92 L405.70,339.32 L405.80,339.20 L408.20,322.00 L410.80,305.00 L412.80,316.00 L413.90,295.00 L414.50,272.00 L416.00,250.00 L417.70,233.00 L419.30,255.00 L421.10,302.00 L421.60,310.62 L422.00,315.00 L422.10,315.65 L422.60,318.39 L423.10,319.89 L423.20,320.00 L423.60,320.28 L424.10,320.57 L424.60,320.81 L425.10,321.00 L425.60,321.14 L426.10,321.24 L426.60,321.29 L427.00,321.30 L427.10,321.30 L427.60,321.29 L428.10,321.28 L428.60,321.26 L429.10,321.24 L429.60,321.21 L430.10,321.17 L430.60,321.13 L431.10,321.08 L431.60,321.02 L431.80,321.00 L432.10,320.95 L432.60,320.83 L433.10,320.65 L433.60,320.40 L434.10,320.09 L434.60,319.69 L435.10,319.21 L435.30,319.00 L435.60,318.41 L436.10,316.47 L436.60,313.72 L437.10,310.62 L437.20,310.00 L438.30,290.00 L438.90,253.50 L439.50,178.60 L440.60,120.00 L442.20,64.40 L442.70,77.50 L443.20,90.20 L443.60,100.00 L443.70,102.33 L444.20,112.38 L444.70,121.46 L445.20,131.97 L445.70,146.27 L445.80,149.80 L446.20,173.00 L446.40,187.50 L446.90,180.90 L447.40,174.50 L447.60,172.00 L447.90,168.31 L448.40,162.33 L448.60,160.00 L449.10,172.57 L449.60,185.00 L450.10,196.30 L450.60,208.81 L450.70,211.90 L451.10,228.42 L451.60,254.71 L452.00,275.00 L452.10,279.76 L452.60,303.65 L452.80,310.00 L453.10,316.41 L453.60,324.44 L454.00,328.00 L454.10,328.52 L454.60,330.80 L455.10,332.52 L455.60,333.61 L456.00,334.00 L456.10,334.04 L456.60,334.22 L457.10,334.36 L457.60,334.47 L458.10,334.55 L458.60,334.59 L459.00,334.60 L459.10,334.60 L459.60,334.56 L460.10,334.46 L460.60,334.30 L461.10,334.08 L461.60,333.79 L462.00,333.50 L462.10,333.24 L462.60,327.63 L463.10,318.03 L463.60,308.86 L463.80,306.30 L464.10,303.35 L464.60,299.12 L465.10,295.63 L465.20,295.00 L465.60,292.67 L466.10,290.20 L466.40,289.00 L466.90,292.12 L467.40,295.54 L467.90,299.23 L468.00,300.00 L468.40,303.54 L468.90,308.66 L469.40,313.63 L469.90,317.46 L470.00,318.00 L470.40,319.92 L470.90,322.11 L471.40,324.05 L471.90,325.71 L472.40,327.08 L472.90,328.12 L473.30,328.70 L473.40,328.81 L473.90,329.35 L474.40,329.83 L474.90,330.25 L475.40,330.63 L475.90,330.97 L476.40,331.27 L476.90,331.55 L477.40,331.80 L477.90,332.04 L478.40,332.27 L478.90,332.49 L479.40,332.72 L479.90,332.95 L480.00,333.00 L480.40,333.19 L480.90,333.42 L481.40,333.65 L481.90,333.87 L482.40,334.08 L482.90,334.29 L483.40,334.49 L483.90,334.68 L484.40,334.87 L484.90,335.06 L485.40,335.24 L485.90,335.42 L486.40,335.60 L486.90,335.77 L487.40,335.94 L487.90,336.11 L488.40,336.27 L488.90,336.44 L489.40,336.60 L489.90,336.77 L490.00,336.80 L490.40,336.93 L490.90,337.09 L491.40,337.26 L491.90,337.41 L492.40,337.57 L492.90,337.73 L493.40,337.88 L493.90,338.04 L494.40,338.19 L494.90,338.33 L495.40,338.48 L495.90,338.62 L496.40,338.76 L496.90,338.89 L497.40,339.03 L497.90,339.16 L498.40,339.28 L498.90,339.40 L499.30,339.50 L499.40,339.52 L499.90,339.64 L500.40,339.75 L500.90,339.87 L501.40,339.98 L501.90,340.08 L502.40,340.19 L502.90,340.30 L503.40,340.40 L503.90,340.50 L504.40,340.60 L504.90,340.70 L505.40,340.80 L505.90,340.89 L506.40,340.99 L506.90,341.08 L507.40,341.18 L507.90,341.27 L508.40,341.36 L508.90,341.45 L509.40,341.54 L509.90,341.63 L510.40,341.71 L510.90,341.80 L511.40,341.89 L511.90,341.97 L512.40,342.06 L512.90,342.14 L513.40,342.23 L513.90,342.31 L514.40,342.40 L514.90,342.48 L515.00,342.50 L515.40,342.57 L515.90,342.65 L516.40,342.73 L516.90,342.82 L517.40,342.90 L517.90,342.98 L518.40,343.06 L518.90,343.14 L519.40,343.22 L519.90,343.30 L520.40,343.38 L520.90,343.46 L521.40,343.54 L521.90,343.62 L522.40,343.70 L522.90,343.78 L523.40,343.85 L523.90,343.93 L524.40,344.00 L524.90,344.08 L525.40,344.15 L525.90,344.23 L526.40,344.30 L526.90,344.38 L527.40,344.45 L527.90,344.52 L528.40,344.59 L528.90,344.67 L529.40,344.74 L529.90,344.81 L530.40,344.88 L530.90,344.95 L531.40,345.02 L531.90,345.08 L532.40,345.15 L532.90,345.22 L533.40,345.29 L533.90,345.35 L534.40,345.42 L534.90,345.49 L535.00,345.50 L535.40,345.55 L535.90,345.62 L536.40,345.68 L536.90,345.74 L537.40,345.80 L537.90,345.87 L538.40,345.93 L538.90,345.99 L539.40,346.04 L539.90,346.10 L540.40,346.16 L540.90,346.22 L541.40,346.28 L541.90,346.33 L542.40,346.39 L542.90,346.45 L543.40,346.50 L543.90,346.56 L544.40,346.62 L544.90,346.67 L545.40,346.73 L545.90,346.79 L546.40,346.84 L546.90,346.90 L547.40,346.95 L547.90,347.01 L548.40,347.07 L548.90,347.13 L549.40,347.19 L549.90,347.24 L550.40,347.30 L550.90,347.36 L551.20,347.40 L551.40,347.42 L551.90,347.49 L552.40,347.55 L552.90,347.61 L553.40,347.67 L553.90,347.73 L554.40,347.80 L554.90,347.86 L555.40,347.93 L555.90,347.99 L556.40,348.06 L556.90,348.12 L557.40,348.19 L557.90,348.25 L558.40,348.32 L558.90,348.38 L559.40,348.45 L559.90,348.51 L560.40,348.58 L560.90,348.65 L561.40,348.71 L561.90,348.78 L562.40,348.84 L562.90,348.91 L563.40,348.98 L563.90,349.04 L564.40,349.11 L564.90,349.17 L565.40,349.24 L565.90,349.30 L566.40,349.37 L566.90,349.43 L567.40,349.49 L567.90,349.56 L568.40,349.62 L568.90,349.68 L569.40,349.74 L569.90,349.81 L570.40,349.87 L570.90,349.93 L571.40,349.99 L571.90,350.05 L572.40,350.11 L572.90,350.16 L573.40,350.22 L573.90,350.28 L574.40,350.33 L574.90,350.39 L575.00,350.40 L575.40,350.44 L575.90,350.50 L576.40,350.55 L576.90,350.61 L577.40,350.66 L577.90,350.71 L578.40,350.77 L578.90,350.82 L579.40,350.87 L579.90,350.93 L580.40,350.98 L580.90,351.03 L581.40,351.08 L581.90,351.14 L582.40,351.19 L582.90,351.24 L583.40,351.29 L583.90,351.34 L584.40,351.39 L584.90,351.44 L585.40,351.49 L585.90,351.54 L586.40,351.59 L586.90,351.64 L587.40,351.69 L587.90,351.74 L588.40,351.79 L588.90,351.84 L589.40,351.88 L589.90,351.93 L590.40,351.98 L590.90,352.02 L591.40,352.07 L591.90,352.12 L592.40,352.16 L592.90,352.21 L593.40,352.25 L593.90,352.30 L594.40,352.34 L594.90,352.38 L595.40,352.43 L595.90,352.47 L596.40,352.51 L596.90,352.55 L597.40,352.59 L597.90,352.63 L598.40,352.67 L598.90,352.71 L599.40,352.75 L599.90,352.79 L600.00,352.80 L600.40,352.83 L600.90,352.87 L601.40,352.91 L601.90,352.94 L602.40,352.98 L602.90,353.02 L603.40,353.05 L603.90,353.09 L604.40,353.12 L604.90,353.16 L605.40,353.19 L605.90,353.23 L606.40,353.26 L606.90,353.30 L607.40,353.33 L607.90,353.36 L608.40,353.40 L608.90,353.43 L609.40,353.46 L609.90,353.49 L610.40,353.53 L610.90,353.56 L611.40,353.59 L611.90,353.62 L612.40,353.65 L612.90,353.68 L613.40,353.72 L613.90,353.75 L614.40,353.78 L614.90,353.81 L615.40,353.84 L615.90,353.87 L616.40,353.90 L616.90,353.93 L617.40,353.96 L617.90,353.99 L618.40,354.02 L618.90,354.05 L619.40,354.07 L619.90,354.10 L620.40,354.13 L620.90,354.16 L621.40,354.19 L621.90,354.22 L622.40,354.25 L622.90,354.28 L623.40,354.31 L623.90,354.34 L624.40,354.37 L624.90,354.39 L625.00,354.40 L625.40,354.42 L625.90,354.45 L626.40,354.48 L626.90,354.51 L627.40,354.54 L627.90,354.57 L628.40,354.60 L628.90,354.63 L629.40,354.66 L629.90,354.69 L630.40,354.72 L630.90,354.75 L631.40,354.78 L631.90,354.81 L632.40,354.84 L632.90,354.87 L633.40,354.90 L633.90,354.93 L634.40,354.96 L634.90,354.98 L635.40,355.01 L635.90,355.04 L636.40,355.07 L636.90,355.10 L637.40,355.13 L637.90,355.15 L638.40,355.18 L638.90,355.21 L639.40,355.23 L639.90,355.26 L640.40,355.29 L640.90,355.31 L641.40,355.33 L641.90,355.36 L642.40,355.38 L642.90,355.41 L643.40,355.43 L643.90,355.45 L644.40,355.47 L644.90,355.49 L645.40,355.51 L645.90,355.53 L646.40,355.55 L646.90,355.57 L647.40,355.59 L647.70,355.60 L647.90,355.61 L648.40,355.62 L648.90,355.64 L649.40,355.66 L649.90,355.67 L650.40,355.69 L650.90,355.70 L651.40,355.72 L651.90,355.73 L652.40,355.75 L652.90,355.76 L653.40,355.77 L653.90,355.79 L654.40,355.80 L654.90,355.81 L655.40,355.82 L655.90,355.84 L656.40,355.85 L656.90,355.86 L657.40,355.87 L657.90,355.88 L658.40,355.89 L658.90,355.90 L659.00,355.90" fill="none" stroke="#9b9b9b" stroke-width="2.9" stroke-linejoin="round" stroke-linecap="butt"/>
<polygon points="137.70,335.70 139.26,340.66 144.45,340.61 140.22,343.62 141.87,348.54 137.70,345.45 133.53,348.54 135.18,343.62 130.95,340.61 136.14,340.66" fill="#595959"/>
<polygon points="160.90,227.50 162.46,232.46 167.65,232.41 163.42,235.42 165.07,240.34 160.90,237.25 156.73,240.34 158.38,235.42 154.15,232.41 159.34,232.46" fill="#595959"/>
<polygon points="180.20,118.80 181.76,123.76 186.95,123.71 182.72,126.72 184.37,131.64 180.20,128.55 176.03,131.64 177.68,126.72 173.45,123.71 178.64,123.76" fill="#595959"/>
<polygon points="190.60,268.00 192.16,272.96 197.35,272.91 193.12,275.92 194.77,280.84 190.60,277.75 186.43,280.84 188.08,275.92 183.85,272.91 189.04,272.96" fill="#595959"/>
<polygon points="209.90,329.00 211.46,333.96 216.65,333.91 212.42,336.92 214.07,341.84 209.90,338.75 205.73,341.84 207.38,336.92 203.15,333.91 208.34,333.96" fill="#595959"/>
<polygon points="295.50,286.30 297.06,291.26 302.25,291.21 298.02,294.22 299.67,299.14 295.50,296.05 291.33,299.14 292.98,294.22 288.75,291.21 293.94,291.26" fill="#595959"/>
<polygon points="355.60,291.60 357.16,296.56 362.35,296.51 358.12,299.52 359.77,304.44 355.60,301.35 351.43,304.44 353.08,299.52 348.85,296.51 354.04,296.56" fill="#595959"/>
<polygon points="402.00,296.90 403.56,301.86 408.75,301.81 404.52,304.82 406.17,309.74 402.00,306.65 397.83,309.74 399.48,304.82 395.25,301.81 400.44,301.86" fill="#595959"/>
<polygon points="443.90,315.30 445.46,320.26 450.65,320.21 446.42,323.22 448.07,328.14 443.90,325.05 439.73,328.14 441.38,323.22 437.15,320.21 442.34,320.26" fill="#595959"/>
<polygon points="502.50,338.40 504.06,343.36 509.25,343.31 505.02,346.32 506.67,351.24 502.50,348.15 498.33,351.24 499.98,346.32 495.75,343.31 500.94,343.36" fill="#595959"/>
<polygon points="566.90,346.90 568.46,351.86 573.65,351.81 569.42,354.82 571.07,359.74 566.90,356.65 562.73,359.74 564.38,354.82 560.15,351.81 565.34,351.86" fill="#595959"/>
<rect x="160.60" y="252.90" width="8.6" height="8.6" fill="#4b4b4b"/>
<rect x="169.00" y="166.30" width="8.6" height="8.6" fill="#4b4b4b"/>
<rect x="184.00" y="213.80" width="8.6" height="8.6" fill="#4b4b4b"/>
<rect x="204.30" y="314.40" width="8.6" height="8.6" fill="#4b4b4b"/>
<rect x="277.40" y="220.60" width="8.6" height="8.6" fill="#4b4b4b"/>
<rect x="314.40" y="313.10" width="8.6" height="8.6" fill="#4b4b4b"/>
<rect x="389.10" y="332.90" width="8.6" height="8.6" fill="#4b4b4b"/>
<rect x="471.30" y="276.10" width="8.6" height="8.6" fill="#4b4b4b"/>
<rect x="543.10" y="311.40" width="8.6" height="8.6" fill="#4b4b4b"/>
<rect x="625.50" y="343.70" width="8.6" height="8.6" fill="#4b4b4b"/>
<circle cx="82.60" cy="356.80" r="3.6" fill="#9b9b9b"/>
<circle cx="152.30" cy="331.30" r="3.6" fill="#9b9b9b"/>
<circle cx="160.50" cy="286.60" r="3.6" fill="#9b9b9b"/>
<circle cx="167.10" cy="203.00" r="3.6" fill="#9b9b9b"/>
<circle cx="182.20" cy="103.40" r="3.6" fill="#9b9b9b"/>
<circle cx="187.60" cy="180.40" r="3.6" fill="#9b9b9b"/>
<circle cx="203.70" cy="288.60" r="3.6" fill="#9b9b9b"/>
<circle cx="265.90" cy="283.20" r="3.6" fill="#9b9b9b"/>
<circle cx="276.00" cy="213.70" r="3.6" fill="#9b9b9b"/>
<circle cx="302.90" cy="243.00" r="3.6" fill="#9b9b9b"/>
<circle cx="332.20" cy="318.30" r="3.6" fill="#9b9b9b"/>
<circle cx="405.80" cy="339.20" r="3.6" fill="#9b9b9b"/>
<circle cx="413.70" cy="272.00" r="3.6" fill="#9b9b9b"/>
<circle cx="421.10" cy="302.00" r="3.6" fill="#9b9b9b"/>
<circle cx="439.40" cy="253.50" r="3.6" fill="#9b9b9b"/>
<circle cx="439.60" cy="178.60" r="3.6" fill="#9b9b9b"/>
<circle cx="442.00" cy="74.70" r="3.6" fill="#9b9b9b"/>
<circle cx="445.80" cy="149.80" r="3.6" fill="#9b9b9b"/>
<circle cx="450.70" cy="211.90" r="3.6" fill="#9b9b9b"/>
<circle cx="452.20" cy="275.30" r="3.6" fill="#9b9b9b"/>
<circle cx="463.80" cy="306.30" r="3.6" fill="#9b9b9b"/>
<circle cx="474.10" cy="328.70" r="3.6" fill="#9b9b9b"/>
<circle cx="499.30" cy="339.20" r="3.6" fill="#9b9b9b"/>
<circle cx="551.20" cy="347.40" r="3.6" fill="#9b9b9b"/>
<circle cx="647.70" cy="355.90" r="3.6" fill="#9b9b9b"/>
<path d="M77.5,358 V36.5 H659.5 V358" fill="none" stroke="#000" stroke-width="1"/>
<ellipse cx="234.3" cy="305.8" rx="76" ry="90.6" fill="none" stroke="#606060" stroke-width="1.45" stroke-dasharray="4.3,2.7"/>
<ellipse cx="385" cy="304.05" rx="75.4" ry="90.35" fill="none" stroke="#606060" stroke-width="1.45" stroke-dasharray="4.3,2.7"/>
<path d="M250.3,190.5 C249,198 246,201 240,204 C233,207.5 230,209 229.7,215.5" fill="none" stroke="#000" stroke-width="2.2"/>
<path d="M398,188.6 C398.5,196 396,199 392.5,203 C389,207 387.3,209 387.1,214" fill="none" stroke="#000" stroke-width="2.2"/>
<text class="s" x="239.4" y="187.2" font-size="16.4">R1</text>
<text class="s" x="387.8" y="184.5" font-size="16.4">R2</text>
<line x1="540" y1="87.2" x2="579" y2="87.2" stroke="#595959" stroke-width="3"/>
<polygon points="540.40,79.90 541.96,84.86 547.15,84.81 542.92,87.82 544.57,92.74 540.40,89.65 536.23,92.74 537.88,87.82 533.65,84.81 538.84,84.86" fill="#595959"/>
<polygon points="559.40,79.90 560.96,84.86 566.15,84.81 561.92,87.82 563.57,92.74 559.40,89.65 555.23,92.74 556.88,87.82 552.65,84.81 557.84,84.86" fill="#595959"/>
<polygon points="578.80,79.90 580.36,84.86 585.55,84.81 581.32,87.82 582.97,92.74 578.80,89.65 574.63,92.74 576.28,87.82 572.05,84.81 577.24,84.86" fill="#595959"/>
<line x1="543" y1="111.6" x2="579" y2="111.6" stroke="#4b4b4b" stroke-width="2.2"/>
<rect x="540.15" y="108.25" width="6.5" height="6.5" fill="#4b4b4b"/>
<rect x="558.25" y="108.25" width="6.5" height="6.5" fill="#4b4b4b"/>
<rect x="575.25" y="108.25" width="6.5" height="6.5" fill="#4b4b4b"/>
<line x1="543" y1="134.8" x2="579" y2="134.8" stroke="#9b9b9b" stroke-width="3"/>
<circle cx="542.80" cy="134.70" r="3.6" fill="#9b9b9b"/>
<circle cx="560.80" cy="134.70" r="3.6" fill="#9b9b9b"/>
<circle cx="578.80" cy="134.70" r="3.6" fill="#9b9b9b"/>
<text x="588.3" y="91.8" font-size="10.4" letter-spacing="0.5">Normal</text>
<text x="588.3" y="115.9" font-size="10.4" letter-spacing="0.5">WCG</text>
<text x="588.3" y="139.6" font-size="10.4" letter-spacing="0.5">N-WCG</text>
</svg></body></html>
